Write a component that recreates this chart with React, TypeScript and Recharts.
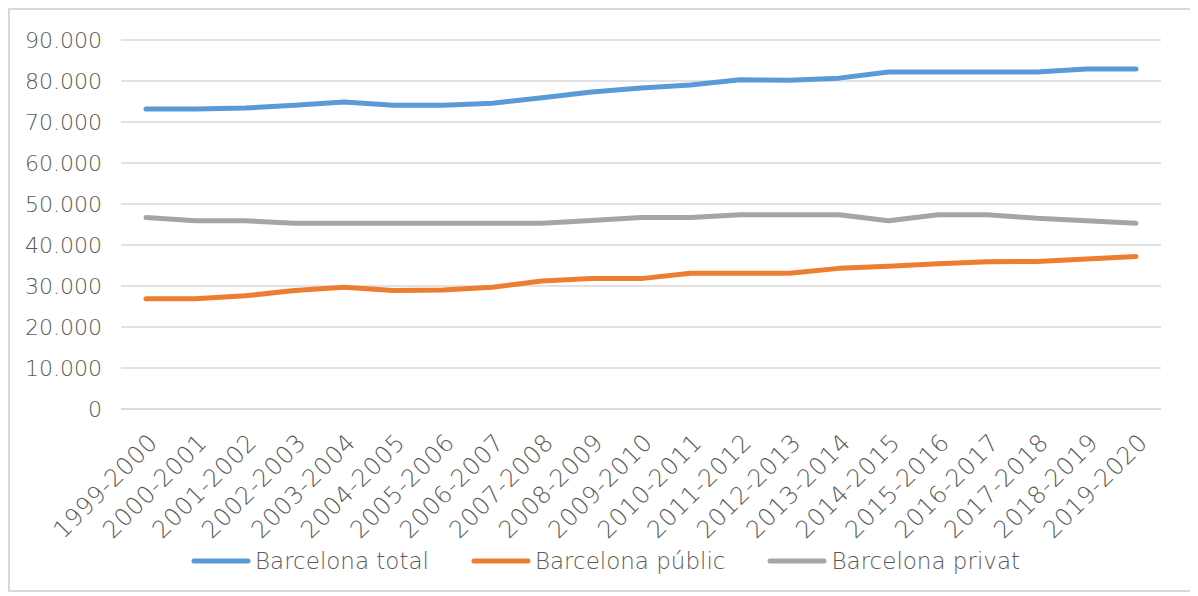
import React from "react";
import { LineChart, Line, XAxis, YAxis, CartesianGrid, Legend } from "recharts";

const categories = [
  "1999-2000", "2000-2001", "2001-2002", "2002-2003", "2003-2004", "2004-2005",
  "2005-2006", "2006-2007", "2007-2008", "2008-2009", "2009-2010", "2010-2011",
  "2011-2012", "2012-2013", "2013-2014", "2014-2015", "2015-2016", "2016-2017",
  "2017-2018", "2018-2019", "2019-2020",
];

const totalValues = [
  73200, 73200, 73400, 74100, 74900, 74100, 74100, 74600, 75900, 77300, 78300,
  79000, 80300, 80200, 80700, 82200, 82200, 82200, 82200, 82900, 82900,
];

const publicValues = [
  26900, 26900, 27600, 28900, 29700, 28900, 29000, 29700, 31200, 31800, 31800,
  33100, 33100, 33100, 34300, 34800, 35400, 35900, 36000, 36600, 37200,
];

const privateValues = [
  46700, 45900, 45900, 45300, 45300, 45300, 45300, 45300, 45300, 46000, 46700,
  46700, 47400, 47400, 47400, 45900, 47400, 47400, 46500, 45900, 45300,
];

const yTicks = [0, 10000, 20000, 30000, 40000, 50000, 60000, 70000, 80000, 90000];

const seriesNames = ["Barcelona total", "Barcelona públic", "Barcelona privat"];

const data = categories.map((c, i) => ({
  name: c,
  total: totalValues[i],
  publico: publicValues[i],
  privat: privateValues[i],
}));

const FONT = "'DejaVu Sans ExtraLight', 'DejaVu Sans', 'Liberation Sans', sans-serif";
const TEXT_COLOR = "#595959";
const WEIGHT = 200;

const formatThousands = (v: number) => {
  if (v === 0) return "0";
  const s = String(v);
  return s.replace(/\B(?=(\d{3})+(?!\d))/g, ".");
};

const XTick = (props: any) => {
  const { x, y, payload } = props;
  return (
    <g transform={`translate(${x + 7},${y})`}>
      <text
        x={0}
        y={0}
        dy="0.35em"
        textAnchor="end"
        transform="rotate(-45)"
        fill={TEXT_COLOR}
        fontSize={24}
        letterSpacing={0.5}
        fontWeight={WEIGHT}
        fontFamily={FONT}
      >
        {payload.value}
      </text>
    </g>
  );
};

const renderLegend = (props: any) => {
  const payload = [...(props.payload || [])].sort(
    (a: any, b: any) => seriesNames.indexOf(a.value) - seriesNames.indexOf(b.value)
  );
  return (
    <div
      style={{
        display: "flex",
        justifyContent: "center",
        alignItems: "center",
        gap: 42,
        fontFamily: FONT,
        fontWeight: WEIGHT,
        fontSize: 23,
        color: TEXT_COLOR,
        paddingLeft: 8,
      }}
    >
      {payload.map((e: any) => (
        <div key={e.value} style={{ display: "flex", alignItems: "center" }}>
          <svg width={60} height={10}>
            <line x1={3} y1={5} x2={57} y2={5} stroke={e.color} strokeWidth={5} strokeLinecap="round" />
          </svg>
          <span style={{ marginLeft: 4 }}>{e.value}</span>
        </div>
      ))}
    </div>
  );
};

export default function App() {
  return (
    <div
      style={{
        width: 1187,
        height: 584,
        border: "2px solid #d9d9d9",
        boxSizing: "border-box",
        background: "#fff",
      }}
    >
      <LineChart
        width={1183}
        height={580}
        data={data}
        margin={{ top: 30, right: 32, left: 0, bottom: 81 }}
      >
        <CartesianGrid horizontal vertical={false} stroke="#d9d9d9" strokeWidth={1.5} />
        <XAxis
          dataKey="name"
          interval={0}
          padding={{ left: 25, right: 25 }}
          tickLine={false}
          axisLine={{ stroke: "#d9d9d9", strokeWidth: 1.5 }}
          tickSize={0}
          tickMargin={29}
          height={100}
          tick={<XTick />}
        />
        <YAxis
          width={111}
          domain={[0, 90000]}
          ticks={yTicks}
          tickFormatter={formatThousands}
          axisLine={false}
          tickLine={false}
          tickSize={0}
          tickMargin={19}
          tick={{ fill: TEXT_COLOR, fontSize: 22, fontFamily: FONT, fontWeight: WEIGHT }}
        />
        <Legend
          verticalAlign="middle"
          align="center"
          layout="horizontal"
          wrapperStyle={{ top: 538, left: 0, width: 1183 }}
          content={renderLegend}
        />
        <Line
          type="linear"
          dataKey="total"
          name={seriesNames[0]}
          stroke="#5B9BD5"
          strokeWidth={5}
          strokeLinecap="round"
          strokeLinejoin="round"
          dot={false}
          activeDot={false}
          isAnimationActive={false}
        />
        <Line
          type="linear"
          dataKey="publico"
          name={seriesNames[1]}
          stroke="#ED7D31"
          strokeWidth={5}
          strokeLinecap="round"
          strokeLinejoin="round"
          dot={false}
          activeDot={false}
          isAnimationActive={false}
        />
        <Line
          type="linear"
          dataKey="privat"
          name={seriesNames[2]}
          stroke="#A5A5A5"
          strokeWidth={5}
          strokeLinecap="round"
          strokeLinejoin="round"
          dot={false}
          activeDot={false}
          isAnimationActive={false}
        />
      </LineChart>
    </div>
  );
}
